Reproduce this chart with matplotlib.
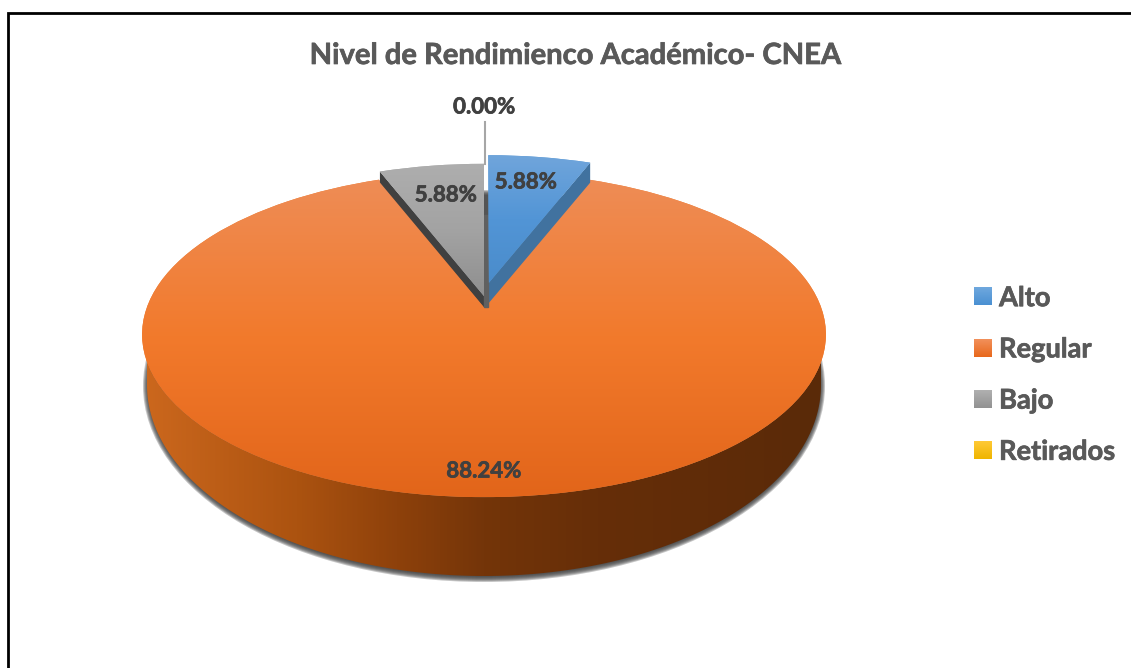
import matplotlib
matplotlib.use("Agg")
import matplotlib.pyplot as plt
import matplotlib.patheffects as pe
from matplotlib.colors import LinearSegmentedColormap
from matplotlib.patches import Ellipse, PathPatch, Polygon
from matplotlib.path import Path
from matplotlib.transforms import Transform
import numpy as np

plt.rcParams['font.family'] = ['Lato', 'DejaVu Sans']

title = "Nivel de Rendimienco Académico- CNEA"
categories = ["Alto", "Regular", "Bajo", "Retirados"]
percentages = [5.88, 88.24, 5.88, 0.00]
slice_colors = ["#5B9BD5", "#ED7D31", "#A5A5A5", "#FFC000"]
swatch_colors = [["#6FA8DE", "#4A90D2"], ["#F2905A", "#E8681C"],
                 ["#B0B0B0", "#929292"], ["#FFC935", "#EFB500"]]

# perspective of the pie top, in pixels of the 1131x668 picture
CX, CY = 484, 307
SX, SY, K = 337, 158, 0.169
DARK = "#404040"
GREY = "#595959"
HEAVY = [pe.withStroke(linewidth=0.5, foreground=DARK)]
HEAVY_GREY = [pe.withStroke(linewidth=0.5, foreground=GREY)]


class Perspective(Transform):
    """Lay the unit disc of the pie down as a seen-from-above ellipse."""
    input_dims = output_dims = 2

    def transform_non_affine(self, values):
        values = np.asarray(values, dtype=float)
        d = 1 + K * values[:, 1]
        return np.column_stack((CX + SX * values[:, 0] / d, CY - SY * values[:, 1] / d))


persp = Perspective()


def vertical_fill(ax, wedge, colors, y0, y1, zorder):
    """Paint a vertical gradient clipped to a wedge."""
    cmap = LinearSegmentedColormap.from_list("v", colors)
    im = ax.imshow(np.linspace(0, 1, 256)[:, None], cmap=cmap, aspect='auto',
                   extent=(0, 1131, y1, y0), zorder=zorder)
    im.set_clip_path(wedge)


def wall(ax, wedge, angle, depth, color):
    """Side wall under one straight edge of an exploded slice."""
    a = np.radians(angle)
    cx, cy = wedge.center
    r = wedge.r
    edge = persp.transform(np.array([[cx, cy], [cx + r * np.sin(a), cy + r * np.cos(a)]]))
    pts = np.vstack((edge, (edge + [0, depth])[::-1]))
    ax.add_patch(Polygon(pts, closed=True, fc=color, ec='none', zorder=6))


fig = plt.figure(figsize=(11.31, 6.68), dpi=100)
ax = fig.add_axes([0, 0, 1, 1])

wedges, _ = ax.pie(percentages, colors=slice_colors, startangle=90, counterclock=False)
for w in wedges:
    w.set_transform(persp + ax.transData)
    w.set_edgecolor('none')

# exploded slices are pulled out of the pie
wedges[0].set_center((0.015, 0.157))
wedges[0].set_radius(0.99)
wedges[2].set_center((0.0, 0.07))
wedges[2].set_radius(1.0)
wedges[1].set_zorder(5)
wedges[0].set_zorder(7)
wedges[2].set_zorder(7)

# shadow under the body
for i in range(6):
    ax.add_patch(Ellipse((CX, 386), 2 * (336 + i), 2 * (191 + i), fc='#404040',
                         ec='none', alpha=0.3, zorder=1))

# body of the pie: front arc of the top + bottom ellipse
phi0 = np.arcsin(K)
phi = np.linspace(np.pi + phi0, 2 * np.pi - phi0, 300)
top_arc = persp.transform(np.column_stack((np.cos(phi), np.sin(phi))))
t = np.linspace(np.pi, 2 * np.pi, 300)
bottom_arc = np.column_stack((CX + 337 * np.cos(t), 385 - 191 * np.sin(t)))
side = PathPatch(Path(np.vstack((top_arc, bottom_arc[::-1], top_arc[:1])), closed=True),
                 fc='none', ec='none', zorder=2)
ax.add_patch(side)
side_cmap = LinearSegmentedColormap.from_list(
    "side", [(0, "#CB671D"), (0.22, "#AC5310"), (0.37, "#8E410B"), (0.5, "#743509"),
             (0.67, "#662E08"), (1, "#5A2A08")])
im = ax.imshow(np.linspace(0, 1, 512)[None, :], cmap=side_cmap, aspect='auto',
               extent=(147, 821, 600, 300), zorder=2)
im.set_clip_path(side)

# tops of the slices
vertical_fill(ax, wedges[1], ["#EE8D57", "#F27A2C", "#E2651A"], 175, 497, 5)
vertical_fill(ax, wedges[0], ["#70A5DB", "#5295D6", "#4A8CCB"], 155, 283, 7)
vertical_fill(ax, wedges[2], ["#AEAEAE", "#A3A3A3", "#8F8F8F"], 163, 296, 7)

# straight side walls visible in the gap
wall(ax, wedges[0], 21.17, 20, "#41729F")
wall(ax, wedges[2], -21.17, 11, "#404040")
ax.fill([484, 488, 488, 484], [215, 215, 307, 307], color="#606060", zorder=6)

# labels
label_pos = [(526, 182), (484, 471), (446, 195), (484, 107)]
for (lx, ly), pct in zip(label_pos, percentages):
    ax.text(lx, ly, f"{pct:.2f}%", ha='center', va='center', fontsize=16,
            fontweight='bold', color=DARK, zorder=9, path_effects=HEAVY)
ax.plot([484.5, 484.5], [122, 164], color="#A6A6A6", lw=1.5, zorder=8)

ax.text(575, 56, title, ha='center', va='center', fontsize=21, fontweight='bold', color=GREY,
        path_effects=HEAVY_GREY)

leg = ax.legend(wedges, categories, loc='center left', bbox_to_anchor=(974 / 1131, 1 - 375 / 668),
                frameon=False, handlelength=0.63, handleheight=0.63, handletextpad=0.29,
                labelspacing=1.0, borderpad=0, borderaxespad=0,
                prop={'size': 19.6, 'weight': 'bold'}, labelcolor=GREY)
for txt in leg.get_texts():
    txt.set_path_effects(HEAVY_GREY)

# chart frame, runs off the picture on the right and at the bottom
ax.plot([7.5, 7.5, 1131], [668, 13, 13], color='black', lw=2, zorder=10, solid_joinstyle='miter')

ax.set_aspect('auto')
ax.set_xlim(0, 1131)
ax.set_ylim(668, 0)
ax.axis('off')

# gradient on the legend swatches
fig.canvas.draw()
for handle, cols in zip(leg.legend_handles, swatch_colors):
    bb = handle.get_window_extent()
    cmap = LinearSegmentedColormap.from_list("s", cols)
    ax.imshow(np.linspace(0, 1, 32)[:, None], cmap=cmap, aspect='auto',
              extent=(bb.x0, bb.x1, 668 - bb.y0, 668 - bb.y1), zorder=11)
ax.set_xlim(0, 1131)
ax.set_ylim(668, 0)

fig.savefig("out.png", dpi=100)
